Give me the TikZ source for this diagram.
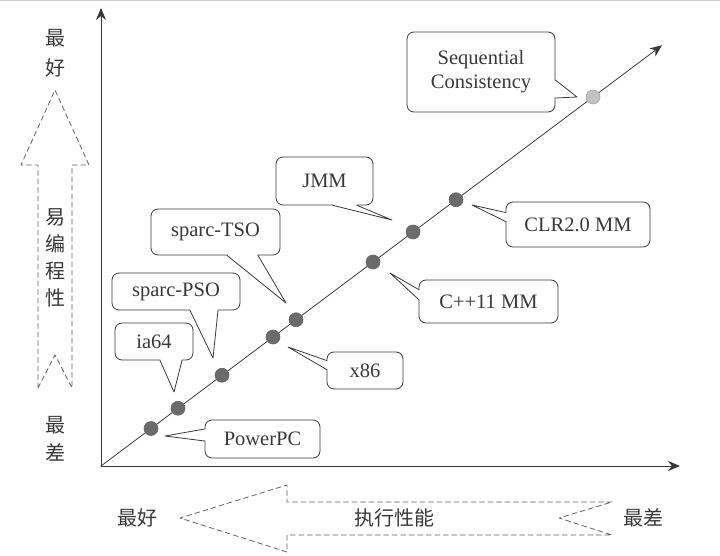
\documentclass[tikz,border=0pt]{standalone}
\usepackage{fontspec}
\setmainfont{Liberation Serif}
\newfontfamily\cjk{Noto Sans CJK SC}
\usepackage{tikz}
\usetikzlibrary{arrows.meta}
\usetikzlibrary{calc}
\definecolor{inkgray}{rgb}{0.22,0.22,0.22}
\definecolor{dotgray}{rgb}{0.42,0.42,0.42}
\definecolor{lightdot}{rgb}{0.76,0.76,0.76}
\definecolor{dashgray}{rgb}{0.38,0.38,0.38}
\tikzset{
  bubble/.style={draw=inkgray, line width=0.8pt, rounded corners=7pt, align=center, inner sep=0pt, text=inkgray, font=\fontsize{20.5}{24}\selectfont},
  pointer/.style={draw=inkgray, line width=0.8pt},
  erase/.style={draw=white, line width=2pt, shorten <=1pt, shorten >=1pt},
  mmdot/.style={circle, draw=black!60, line width=0.6pt, fill=dotgray, minimum size=14pt, inner sep=0pt},
  bigarrow/.style={draw=dashgray, line width=0.8pt, dash pattern=on 5pt off 3.5pt},
  cn/.style={inner sep=0pt, align=center, text=inkgray}
}
\begin{document}
\begin{tikzpicture}[line cap=round,line join=round,x=1pt,y=1pt]
\useasboundingbox (0,0) rectangle (720,555);
\draw [gray!40, line width=1pt] (0,554.5) -- (720,554.5);
\coordinate (o) at (101,89);
\coordinate (ytip) at (101,547);
\coordinate (xtip) at (680,89);
\coordinate (dtip) at (662,509.75);
\draw [inkgray, line width=0.9pt, -{Stealth[length=12pt, width=10pt]}] (o) -- (ytip);
\draw [inkgray, line width=0.9pt, -{Stealth[length=12pt, width=10pt]}] (o) -- (xtip);
\draw [inkgray, line width=0.8pt, -{Stealth[length=12pt, width=10pt]}] (o) -- (dtip);
\node[mmdot] (ppc) at (151,126.5) {};
\node[mmdot] (ia) at (178,146.75) {};
\node[mmdot] (pso) at (222,179.75) {};
\node[mmdot] (xe) at (273,218) {};
\node[mmdot] (tso) at (296,235.25) {};
\node[mmdot] (cpp) at (373,293) {};
\node[mmdot] (jmm) at (413,323) {};
\node[mmdot] (clr) at (456,355.25) {};
\node[mmdot, draw=lightdot!85!black, fill=lightdot] (sc) at (593,458) {};
\node[bubble, minimum width=148pt, minimum height=80pt] (scbox) at (481,483) {Sequential\\Consistency};
\node[bubble, minimum width=97pt, minimum height=48pt] (jmmbox) at (324.5,374) {JMM};
\node[bubble, minimum width=129pt, minimum height=46pt] (tsobox) at (215.5,323) {sparc-TSO};
\node[bubble, minimum width=128pt, minimum height=37pt] (psobox) at (176,263.5) {sparc-PSO};
\node[bubble, minimum width=78pt, minimum height=37pt] (iabox) at (154,213.5) {ia64};
\node[bubble, minimum width=115pt, minimum height=38pt] (ppcbox) at (262.5,116) {PowerPC};
\node[bubble, minimum width=76pt, minimum height=37pt] (xebox) at (365,184.5) {x86};
\node[bubble, minimum width=139pt, minimum height=43pt] (cppbox) at (488.5,253.5) {C++11 MM};
\node[bubble, minimum width=144pt, minimum height=45pt] (clrbox) at (578,330.5) {CLR2.0 MM};
\coordinate (scp) at (577,458);
\coordinate (jmmp) at (392,335);
\coordinate (tsop) at (286,252);
\coordinate (psop) at (213,197);
\coordinate (iap) at (174,163);
\coordinate (ppcp) at (165,119);
\coordinate (xep) at (288,208);
\coordinate (cppp) at (390,282);
\coordinate (clrp) at (472,350);
\draw [erase] ($(scbox.east)+(0,-8)$) -- ($(scbox.east)+(0,-26)$);
\draw [pointer] ($(scbox.east)+(0,-8)$) -- (scp) -- ($(scbox.east)+(0,-26)$);
\draw [erase] ($(jmmbox.south)+(8.5,0)$) -- ($(jmmbox.south)+(32.5,0)$);
\draw [pointer] ($(jmmbox.south)+(8.5,0)$) -- (jmmp) -- ($(jmmbox.south)+(32.5,0)$);
\draw [erase] ($(tsobox.south)+(11.5,0)$) -- ($(tsobox.south)+(42.5,0)$);
\draw [pointer] ($(tsobox.south)+(11.5,0)$) -- (tsop) -- ($(tsobox.south)+(42.5,0)$);
\draw [erase] ($(psobox.south)+(14,0)$) -- ($(psobox.south)+(42,0)$);
\draw [pointer] ($(psobox.south)+(14,0)$) -- (psop) -- ($(psobox.south)+(42,0)$);
\draw [erase] ($(iabox.south)+(6,0)$) -- ($(iabox.south)+(28,0)$);
\draw [pointer] ($(iabox.south)+(6,0)$) -- (iap) -- ($(iabox.south)+(28,0)$);
\draw [erase] ($(ppcbox.west)+(0,10)$) -- ($(ppcbox.west)+(0,-2)$);
\draw [pointer] ($(ppcbox.west)+(0,10)$) -- (ppcp) -- ($(ppcbox.west)+(0,-2)$);
\draw [erase] ($(xebox.west)+(0,10)$) -- ($(xebox.west)+(0,1)$);
\draw [pointer] ($(xebox.west)+(0,10)$) -- (xep) -- ($(xebox.west)+(0,1)$);
\draw [erase] ($(cppbox.west)+(0,12)$) -- ($(cppbox.west)+(0,2)$);
\draw [pointer] ($(cppbox.west)+(0,12)$) -- (cppp) -- ($(cppbox.west)+(0,2)$);
\draw [erase] ($(clrbox.west)+(0,12)$) -- ($(clrbox.west)+(0,3)$);
\draw [pointer] ($(clrbox.west)+(0,12)$) -- (clrp) -- ($(clrbox.west)+(0,3)$);
\draw [bigarrow] (38,167) -- (38,390) -- (21,390) -- (55,465) -- (89,390) -- (72,390) -- (72,167) -- (55,200) -- cycle;
\draw [bigarrow] (612,53) -- (287,53) -- (287,70) -- (180,37) -- (287,3) -- (287,20) -- (612,20) -- (559,37) -- cycle;
\node[cn, font=\cjk\fontsize{20}{30}\selectfont] (ybest) at (55,502) {最\\好};
\node[cn, font=\cjk\fontsize{20}{27}\selectfont] (ease) at (55,297.5) {易\\编\\程\\性};
\node[cn, font=\cjk\fontsize{20}{28}\selectfont] (yworst) at (55,116) {最\\差};
\node[cn, font=\cjk\fontsize{20}{24}\selectfont] (xbest) at (137,37) {最好};
\node[cn, font=\cjk\fontsize{20}{24}\selectfont] (perf) at (394,37) {执行性能};
\node[cn, font=\cjk\fontsize{20}{24}\selectfont] (xworst) at (643,37) {最差};
\end{tikzpicture}
\end{document}
